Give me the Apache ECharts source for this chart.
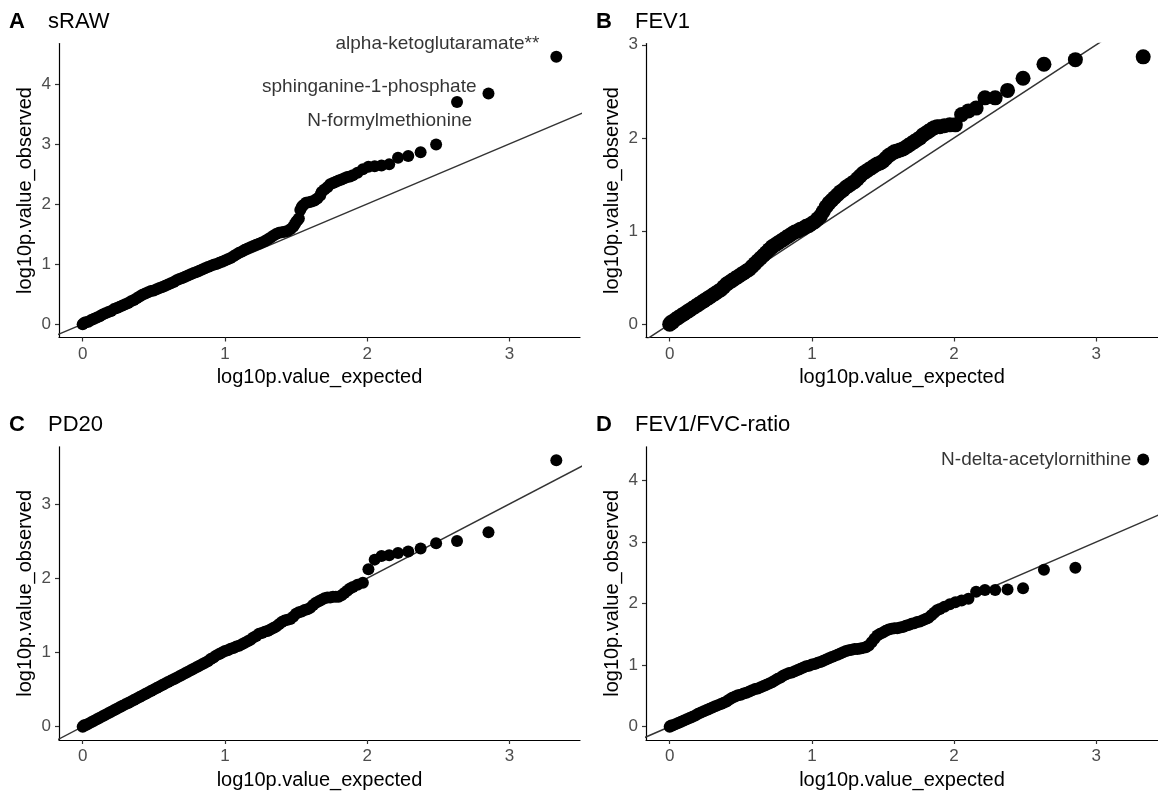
<!DOCTYPE html>
<html>
<head>
<meta charset="utf-8">
<title>QQ plots</title>
<script src="https://cdn.jsdelivr.net/npm/echarts@6/dist/echarts.min.js"></script>
<style>
  html, body { margin: 0; padding: 0; background: #fff; }
  #chart { width: 1158px; height: 799px; }
</style>
</head>
<body>
<div id="chart"></div>
<script>
// ---- data (expected vs observed -log10 p) ----
var sRawExpected = [0.00, 0.01, 0.02, 0.04, 0.06, 0.08, 0.10, 0.12, 0.14, 0.16, 0.18, 0.20, 0.22, 0.24, 0.26, 0.28, 0.30, 0.32, 0.34, 0.36, 0.38, 0.40, 0.42, 0.44, 0.46, 0.48, 0.50, 0.52, 0.54, 0.56, 0.58, 0.60, 0.62, 0.64, 0.66, 0.68, 0.70, 0.72, 0.74, 0.76, 0.78, 0.80, 0.82, 0.84, 0.86, 0.88, 0.90, 0.92, 0.94, 0.96, 0.98, 1.00, 1.02, 1.04, 1.06, 1.08, 1.10, 1.12, 1.14, 1.16, 1.18, 1.20, 1.22, 1.24, 1.26, 1.28, 1.30, 1.32, 1.34, 1.36, 1.38, 1.40, 1.42, 1.44, 1.46, 1.48, 1.49, 1.50, 1.51, 1.52, 1.53, 1.54, 1.55, 1.57, 1.59, 1.61, 1.63, 1.65, 1.67, 1.68, 1.70, 1.72, 1.74, 1.76, 1.78, 1.80, 1.82, 1.84, 1.86, 1.88, 1.90, 1.932, 1.970, 2.009, 2.053, 2.101, 2.155, 2.217, 2.289, 2.376, 2.485, 2.632, 2.853, 3.330];
var sRawObserved = [0.00, 0.02, 0.03, 0.04, 0.07, 0.09, 0.11, 0.13, 0.16, 0.18, 0.20, 0.22, 0.25, 0.27, 0.29, 0.31, 0.33, 0.35, 0.38, 0.40, 0.43, 0.46, 0.49, 0.51, 0.53, 0.55, 0.56, 0.58, 0.60, 0.62, 0.64, 0.66, 0.68, 0.70, 0.73, 0.75, 0.77, 0.79, 0.81, 0.83, 0.85, 0.87, 0.89, 0.91, 0.93, 0.95, 0.97, 0.99, 1.00, 1.02, 1.04, 1.06, 1.08, 1.10, 1.13, 1.16, 1.19, 1.21, 1.24, 1.26, 1.28, 1.30, 1.32, 1.34, 1.36, 1.38, 1.41, 1.44, 1.47, 1.50, 1.52, 1.53, 1.54, 1.55, 1.58, 1.62, 1.66, 1.70, 1.73, 1.76, 1.90, 1.95, 1.98, 2.02, 2.03, 2.04, 2.06, 2.09, 2.14, 2.20, 2.24, 2.28, 2.33, 2.35, 2.37, 2.39, 2.41, 2.43, 2.45, 2.46, 2.48, 2.52, 2.58, 2.62, 2.63, 2.64, 2.66, 2.77, 2.80, 2.86, 2.99, 3.70, 3.84, 4.45];

var fev1Expected = [0.00, 0.01, 0.02, 0.04, 0.06, 0.08, 0.10, 0.12, 0.14, 0.16, 0.18, 0.20, 0.22, 0.24, 0.26, 0.28, 0.30, 0.32, 0.34, 0.36, 0.38, 0.40, 0.42, 0.44, 0.46, 0.48, 0.50, 0.52, 0.54, 0.56, 0.58, 0.60, 0.62, 0.64, 0.66, 0.68, 0.70, 0.72, 0.74, 0.76, 0.78, 0.80, 0.82, 0.84, 0.86, 0.88, 0.90, 0.92, 0.94, 0.96, 0.98, 1.00, 1.02, 1.04, 1.06, 1.08, 1.10, 1.12, 1.14, 1.16, 1.18, 1.20, 1.22, 1.24, 1.26, 1.28, 1.30, 1.32, 1.34, 1.36, 1.38, 1.40, 1.42, 1.44, 1.46, 1.48, 1.50, 1.52, 1.54, 1.56, 1.58, 1.60, 1.62, 1.64, 1.66, 1.68, 1.70, 1.72, 1.74, 1.76, 1.78, 1.80, 1.82, 1.84, 1.86, 1.88, 1.90, 1.932, 1.970, 2.009, 2.053, 2.101, 2.155, 2.217, 2.289, 2.376, 2.485, 2.632, 2.853, 3.330];
var fev1Observed = [0.00, 0.02, 0.02, 0.05, 0.07, 0.09, 0.11, 0.13, 0.15, 0.17, 0.19, 0.21, 0.23, 0.25, 0.27, 0.29, 0.31, 0.33, 0.35, 0.37, 0.40, 0.43, 0.45, 0.47, 0.49, 0.51, 0.53, 0.55, 0.57, 0.59, 0.62, 0.65, 0.68, 0.71, 0.74, 0.77, 0.80, 0.83, 0.85, 0.87, 0.89, 0.91, 0.93, 0.95, 0.97, 0.99, 1.00, 1.02, 1.03, 1.05, 1.06, 1.08, 1.10, 1.13, 1.16, 1.21, 1.26, 1.30, 1.33, 1.36, 1.39, 1.42, 1.44, 1.47, 1.49, 1.51, 1.53, 1.56, 1.59, 1.62, 1.64, 1.66, 1.68, 1.70, 1.72, 1.73, 1.75, 1.78, 1.81, 1.83, 1.85, 1.86, 1.87, 1.88, 1.90, 1.92, 1.94, 1.96, 1.98, 2.00, 2.03, 2.05, 2.07, 2.09, 2.11, 2.12, 2.12, 2.13, 2.14, 2.14, 2.25, 2.29, 2.32, 2.43, 2.43, 2.51, 2.64, 2.79, 2.84, 2.87];

var pd20Expected = [0.00, 0.01, 0.02, 0.04, 0.06, 0.08, 0.10, 0.12, 0.14, 0.16, 0.18, 0.20, 0.22, 0.24, 0.26, 0.28, 0.30, 0.32, 0.34, 0.36, 0.38, 0.40, 0.42, 0.44, 0.46, 0.48, 0.50, 0.52, 0.54, 0.56, 0.58, 0.60, 0.62, 0.64, 0.66, 0.68, 0.70, 0.72, 0.74, 0.76, 0.78, 0.80, 0.82, 0.84, 0.86, 0.88, 0.90, 0.92, 0.94, 0.96, 0.98, 1.00, 1.02, 1.04, 1.06, 1.08, 1.10, 1.12, 1.14, 1.16, 1.18, 1.20, 1.22, 1.24, 1.26, 1.28, 1.30, 1.32, 1.34, 1.36, 1.38, 1.40, 1.42, 1.44, 1.46, 1.48, 1.50, 1.52, 1.54, 1.56, 1.58, 1.60, 1.62, 1.64, 1.66, 1.68, 1.70, 1.72, 1.74, 1.76, 1.78, 1.80, 1.82, 1.84, 1.86, 1.88, 1.90, 1.932, 1.970, 2.009, 2.053, 2.101, 2.155, 2.217, 2.289, 2.376, 2.485, 2.632, 2.853, 3.330];
var pd20Observed = [0.00, 0.02, 0.02, 0.04, 0.06, 0.08, 0.10, 0.12, 0.14, 0.16, 0.18, 0.20, 0.22, 0.24, 0.26, 0.28, 0.30, 0.32, 0.34, 0.36, 0.38, 0.40, 0.42, 0.44, 0.46, 0.48, 0.50, 0.52, 0.54, 0.56, 0.58, 0.60, 0.62, 0.64, 0.66, 0.68, 0.70, 0.72, 0.74, 0.76, 0.78, 0.80, 0.82, 0.84, 0.86, 0.88, 0.91, 0.93, 0.96, 0.98, 1.00, 1.02, 1.03, 1.05, 1.06, 1.08, 1.09, 1.11, 1.13, 1.15, 1.17, 1.20, 1.22, 1.25, 1.26, 1.28, 1.29, 1.31, 1.33, 1.35, 1.38, 1.41, 1.43, 1.44, 1.45, 1.48, 1.52, 1.54, 1.55, 1.57, 1.58, 1.60, 1.64, 1.67, 1.69, 1.71, 1.73, 1.74, 1.74, 1.75, 1.75, 1.75, 1.77, 1.80, 1.83, 1.86, 1.88, 1.91, 1.94, 2.12, 2.25, 2.30, 2.31, 2.34, 2.36, 2.40, 2.47, 2.50, 2.62, 3.59];

var ratioExpected = [0.00, 0.01, 0.02, 0.04, 0.06, 0.08, 0.10, 0.12, 0.14, 0.16, 0.18, 0.20, 0.22, 0.24, 0.26, 0.28, 0.30, 0.32, 0.34, 0.36, 0.38, 0.40, 0.42, 0.44, 0.46, 0.48, 0.50, 0.52, 0.54, 0.56, 0.58, 0.60, 0.62, 0.64, 0.66, 0.68, 0.70, 0.72, 0.74, 0.76, 0.78, 0.80, 0.82, 0.84, 0.86, 0.88, 0.90, 0.92, 0.94, 0.96, 0.98, 1.00, 1.02, 1.04, 1.06, 1.08, 1.10, 1.12, 1.14, 1.16, 1.18, 1.20, 1.22, 1.24, 1.26, 1.28, 1.30, 1.32, 1.34, 1.36, 1.38, 1.40, 1.42, 1.44, 1.46, 1.48, 1.50, 1.52, 1.54, 1.56, 1.58, 1.60, 1.62, 1.64, 1.66, 1.68, 1.70, 1.72, 1.74, 1.76, 1.78, 1.80, 1.82, 1.84, 1.86, 1.88, 1.90, 1.932, 1.970, 2.009, 2.053, 2.101, 2.155, 2.217, 2.289, 2.376, 2.485, 2.632, 2.853, 3.330];
var ratioObserved = [0.00, 0.02, 0.02, 0.04, 0.06, 0.08, 0.10, 0.12, 0.14, 0.16, 0.18, 0.21, 0.23, 0.25, 0.27, 0.29, 0.31, 0.33, 0.35, 0.37, 0.39, 0.41, 0.44, 0.47, 0.49, 0.51, 0.52, 0.54, 0.55, 0.57, 0.59, 0.61, 0.62, 0.64, 0.66, 0.68, 0.70, 0.72, 0.75, 0.78, 0.80, 0.83, 0.85, 0.87, 0.88, 0.90, 0.92, 0.94, 0.96, 0.98, 0.99, 1.01, 1.02, 1.04, 1.05, 1.07, 1.09, 1.11, 1.13, 1.15, 1.17, 1.19, 1.21, 1.23, 1.24, 1.25, 1.26, 1.26, 1.27, 1.28, 1.29, 1.32, 1.37, 1.43, 1.48, 1.51, 1.53, 1.56, 1.58, 1.59, 1.60, 1.60, 1.61, 1.62, 1.64, 1.65, 1.67, 1.68, 1.70, 1.71, 1.73, 1.75, 1.77, 1.81, 1.85, 1.89, 1.91, 1.95, 1.99, 2.02, 2.05, 2.08, 2.19, 2.22, 2.22, 2.23, 2.25, 2.55, 2.58, 4.34];

// labelled metabolites: name, expected, observed
var sRawLabelNames = ['alpha-ketoglutaramate**', 'sphinganine-1-phosphate', 'N-formylmethionine'];
var sRawLabelX = [3.330, 2.853, 2.632];
var sRawLabelY = [4.45, 3.84, 3.70];
var ratioLabelNames = ['N-delta-acetylornithine'];
var ratioLabelX = [3.330];
var ratioLabelY = [4.34];

var panelLetters = ['A', 'B', 'C', 'D'];
var panelTitles = ['sRAW', 'FEV1', 'PD20', 'FEV1/FVC-ratio'];

// reference line y = x
var refLine = [[-1, -1], [5, 5]];

function zip(xs, ys) {
    var out = [];
    for (var i = 0; i < xs.length; i++) {
        out.push([xs[i], ys[i]]);
    }
    return out;
}

var FONT = 'Liberation Sans';

// layout of the four panels (pixels) and axis ranges
var panels = [
    {grid: {left: 59, top: 43.5, width: 521, height: 294}, x: [-0.1665, 3.4965], y: [-0.2225, 4.6725], yTicks: [0, 1, 2, 3, 4],
        pts: zip(sRawExpected, sRawObserved), size: 12,
        labels: {names: sRawLabelNames, xs: sRawLabelX, ys: sRawLabelY, offsets: [[-17, -13], [-12, -7], [15, 19]]}},
    {grid: {left: 646, top: 43.5, width: 512, height: 294}, x: [-0.1665, 3.434], y: [-0.1435, 3.0135], yTicks: [0, 1, 2, 3],
        pts: zip(fev1Expected, fev1Observed), size: 15},
    {grid: {left: 59, top: 446.8, width: 521, height: 293.2}, x: [-0.1665, 3.4965], y: [-0.18, 3.77], yTicks: [0, 1, 2, 3],
        pts: zip(pd20Expected, pd20Observed), size: 12},
    {grid: {left: 646, top: 446.8, width: 512, height: 293.2}, x: [-0.1665, 3.434], y: [-0.2165, 4.5465], yTicks: [0, 1, 2, 3, 4],
        pts: zip(ratioExpected, ratioObserved), size: 12,
        labels: {names: ratioLabelNames, xs: ratioLabelX, ys: ratioLabelY, offsets: [[-12, 0]]}}
];

var grids = [], xAxes = [], yAxes = [], series = [], graphics = [];

panels.forEach(function (p, i) {
    grids.push(p.grid);
    xAxes.push({
        type: 'value', gridIndex: i, min: p.x[0], max: p.x[1],
        name: 'log10p.value_expected', nameLocation: 'middle', nameGap: 30,
        nameTextStyle: {fontFamily: FONT, fontSize: 20, color: '#000'},
        axisLine: {onZero: false, lineStyle: {color: '#000', width: 1.2}},
        axisTick: {customValues: [0, 1, 2, 3], length: 4, lineStyle: {color: '#333', width: 1.2}},
        axisLabel: {customValues: [0, 1, 2, 3], margin: 8, fontFamily: FONT, fontSize: 17, color: '#4d4d4d'},
        splitLine: {show: false}
    });
    yAxes.push({
        type: 'value', gridIndex: i, min: p.y[0], max: p.y[1],
        name: 'log10p.value_observed', nameLocation: 'middle', nameGap: 24,
        nameTextStyle: {fontFamily: FONT, fontSize: 20, color: '#000'},
        axisLine: {onZero: false, lineStyle: {color: '#000', width: 1.2}},
        axisTick: {customValues: p.yTicks, length: 4, lineStyle: {color: '#333', width: 1.2}},
        axisLabel: {customValues: p.yTicks, margin: 8, fontFamily: FONT, fontSize: 17, color: '#4d4d4d'},
        splitLine: {show: false}
    });
    series.push({
        type: 'line', xAxisIndex: i, yAxisIndex: i, data: refLine,
        showSymbol: false, clip: true, silent: true, z: 1,
        lineStyle: {color: '#333', width: 1.5}
    });
    series.push({
        type: 'scatter', xAxisIndex: i, yAxisIndex: i, data: p.pts,
        symbol: 'circle', symbolSize: p.size, silent: true, z: 2,
        itemStyle: {color: '#000', opacity: 1}
    });
    if (p.labels) {
        var items = p.labels.names.map(function (name, k) {
            return {
                value: [p.labels.xs[k], p.labels.ys[k]],
                label: {show: true, formatter: name, position: 'left', distance: 0, offset: p.labels.offsets[k],
                    color: '#000', fontFamily: FONT, fontSize: 19}
            };
        });
        series.push({
            type: 'scatter', xAxisIndex: i, yAxisIndex: i, data: items,
            symbolSize: 0, silent: true, z: 3,
            itemStyle: {color: '#000'},
            label: {fontFamily: FONT, fontSize: 19, color: '#000'}
        });
    }
    var gx = p.grid.left, gy = p.grid.top;
    graphics.push({
        type: 'text', left: gx - 50, top: gy - 33,
        style: {text: panelLetters[i], font: 'bold 22px "Liberation Sans"', fill: '#000'}
    });
    graphics.push({
        type: 'text', left: gx - 11, top: gy - 33,
        style: {text: panelTitles[i], font: '22px "Liberation Sans"', fill: '#000'}
    });
});

var myChart = echarts.init(document.getElementById('chart'), null, {renderer: 'canvas'});
myChart.setOption({
    animation: false,
    backgroundColor: '#fff',
    grid: grids,
    xAxis: xAxes,
    yAxis: yAxes,
    series: series,
    graphic: graphics
});
</script>
</body>
</html>
